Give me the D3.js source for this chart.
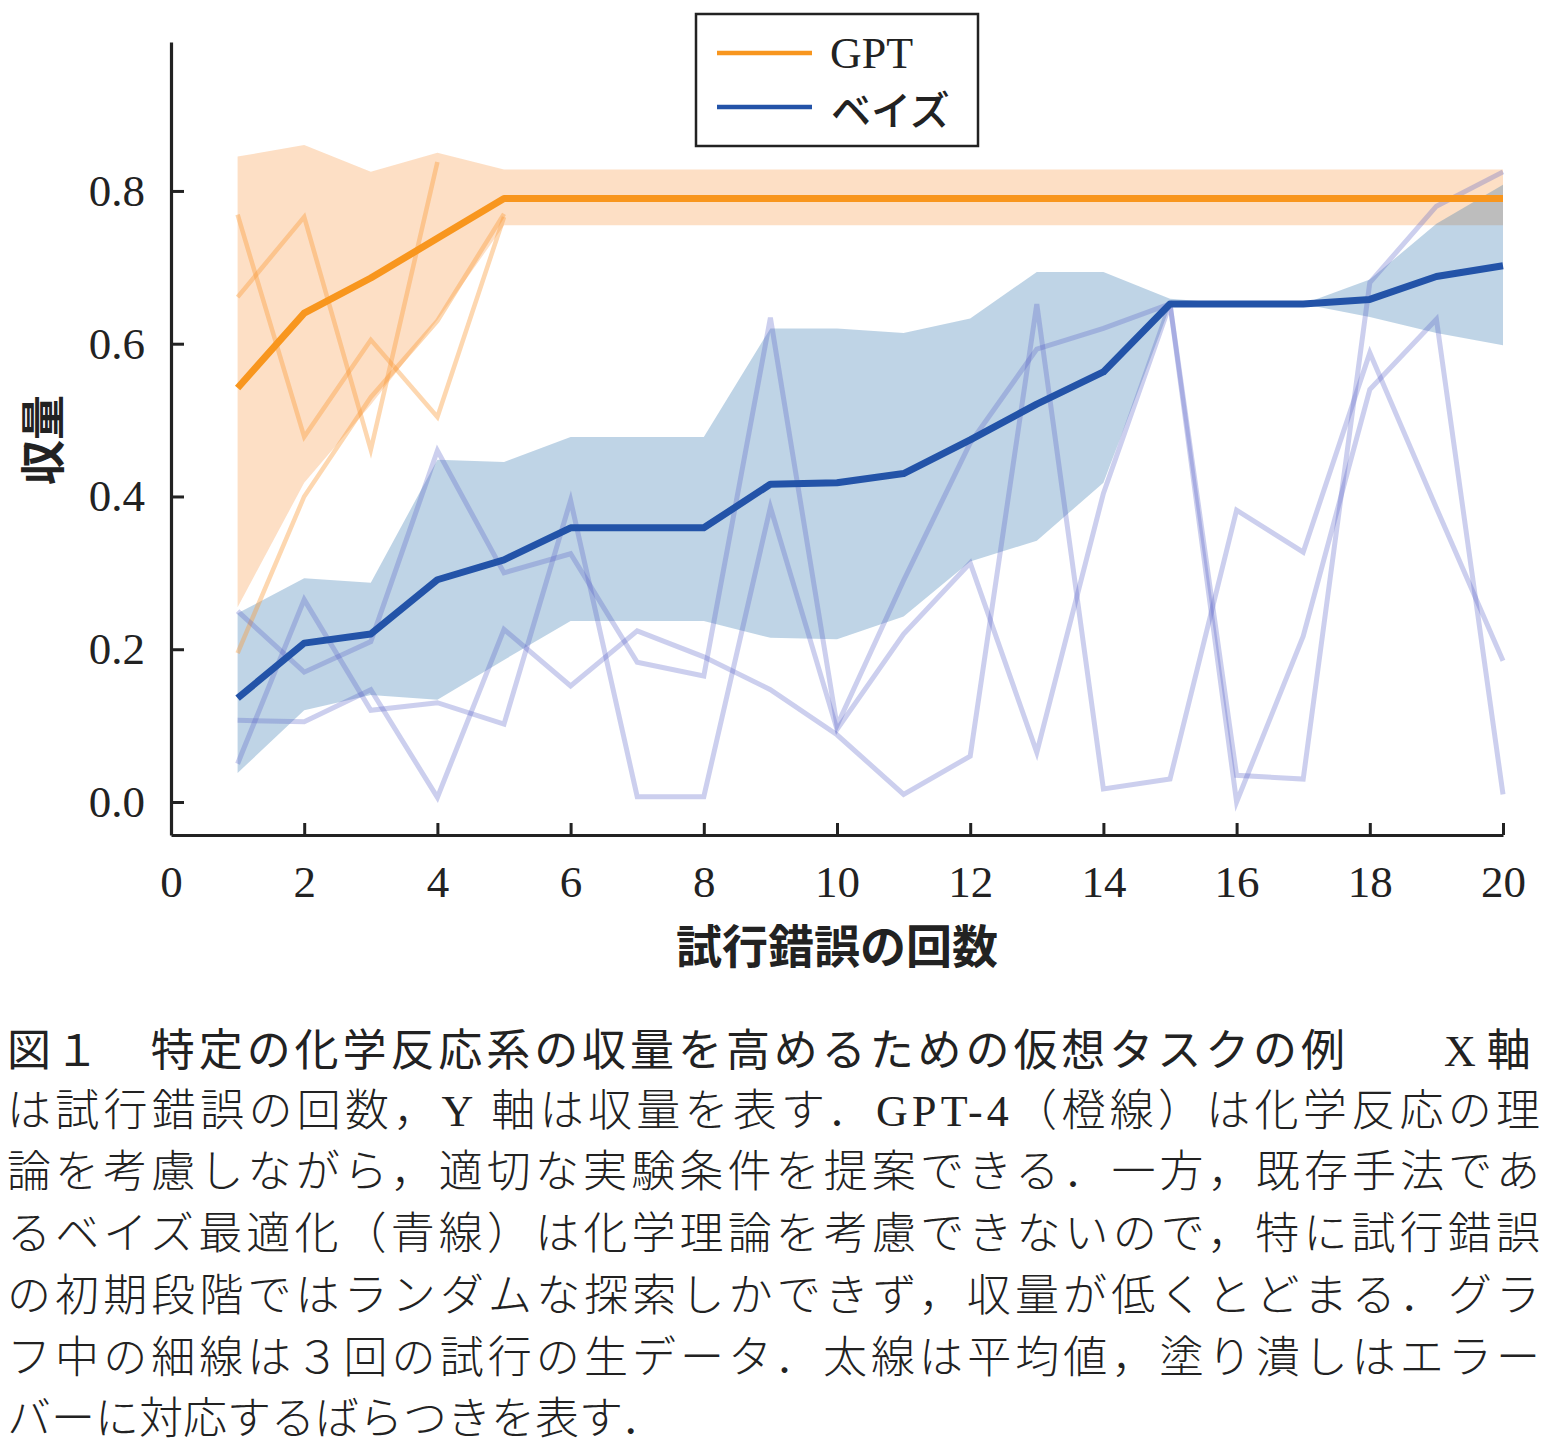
<!DOCTYPE html>
<html>
<head>
<meta charset="utf-8">
<script src="https://cdn.jsdelivr.net/npm/d3@7"></script>
<style>
  body { margin: 0; background: #fff; }
</style>
</head>
<body>
<div id="chart"></div>
<script>
const W = 1555, H = 1445;

// x = trial number
const trials = [1, 2, 3, 4, 5, 6, 7, 8, 9, 10, 11, 12, 13, 14, 15, 16, 17, 18, 19, 20];

// GPT
const gptMean  = [0.542, 0.640, 0.686, 0.738, 0.790, 0.790, 0.790, 0.790, 0.790, 0.790,
                  0.790, 0.790, 0.790, 0.790, 0.790, 0.790, 0.790, 0.790, 0.790, 0.790];
const gptUpper = [0.845, 0.860, 0.825, 0.850, 0.828, 0.828, 0.828, 0.828, 0.828, 0.828,
                  0.828, 0.828, 0.828, 0.828, 0.828, 0.828, 0.828, 0.828, 0.828, 0.828];
const gptLower = [0.255, 0.418, 0.520, 0.631, 0.755, 0.755, 0.755, 0.755, 0.755, 0.755,
                  0.755, 0.755, 0.755, 0.755, 0.755, 0.755, 0.755, 0.755, 0.755, 0.755];
const gptRun1 = [0.769, 0.478, 0.605, 0.504, 0.766];
const gptRun2 = [0.661, 0.766, 0.461, 0.838];
const gptRun3 = [0.195, 0.400, 0.530, 0.630, 0.770];

// Bayesian optimisation
const bayesMean  = [0.136, 0.208, 0.220, 0.291, 0.317, 0.359, 0.359, 0.359, 0.416, 0.418,
                    0.430, 0.474, 0.521, 0.563, 0.652, 0.652, 0.652, 0.658, 0.688, 0.702];
const bayesUpper = [0.247, 0.293, 0.287, 0.448, 0.445, 0.478, 0.478, 0.478, 0.620, 0.620,
                    0.614, 0.633, 0.694, 0.694, 0.659, 0.652, 0.652, 0.684, 0.757, 0.808];
const bayesLower = [0.038, 0.120, 0.140, 0.134, 0.186, 0.237, 0.237, 0.237, 0.215, 0.213,
                    0.243, 0.315, 0.342, 0.418, 0.648, 0.652, 0.652, 0.635, 0.614, 0.598];
const bayesRun1 = [0.250, 0.170, 0.210, 0.460, 0.300, 0.325, 0.183, 0.165, 0.634, 0.100,
                   0.290, 0.470, 0.593, 0.620, 0.652, 0.035, 0.030, 0.680, 0.780, 0.825];
const bayesRun2 = [0.107, 0.105, 0.147, 0.006, 0.226, 0.152, 0.224, 0.190, 0.147, 0.088,
                   0.010, 0.060, 0.652, 0.017, 0.030, 0.382, 0.327, 0.588, 0.385, 0.185];
const bayesRun3 = [0.050, 0.265, 0.120, 0.130, 0.102, 0.395, 0.007, 0.007, 0.386, 0.095,
                   0.220, 0.313, 0.065, 0.404, 0.652, 0.000, 0.217, 0.540, 0.632, 0.010];

const xTicks = [0, 2, 4, 6, 8, 10, 12, 14, 16, 18, 20];
const yTicks = [0.0, 0.2, 0.4, 0.6, 0.8];
const seriesNames = ['GPT', 'ベイズ'];
const xLabel = '試行錯誤の回数';
const yLabel = '収量';

const captionHead = '図１　特定の化学反応系の収量を高めるための仮想タスクの例';
const captionLines = [
  'は試行錯誤の回数，Y 軸は収量を表す．GPT-4（橙線）は化学反応の理',
  '論を考慮しながら，適切な実験条件を提案できる．一方，既存手法であ',
  'るベイズ最適化（青線）は化学理論を考慮できないので，特に試行錯誤',
  'の初期段階ではランダムな探索しかできず，収量が低くとどまる．グラ',
  'フ中の細線は３回の試行の生データ．太線は平均値，塗り潰しはエラー',
  'バーに対応するばらつきを表す．'
];

const ORANGE = '#f8961e', BLUE = '#2353a8';
const SERIF = '"Liberation Serif", "Noto Sans CJK JP", serif';
const GOTHIC = '"Noto Sans CJK JP", sans-serif';

const svg = d3.select('#chart').append('svg')
  .attr('width', W).attr('height', H)
  .style('background', '#fff');

const x = d3.scaleLinear().domain([0, 20]).range([171, 1503]);
const y = d3.scaleLinear().domain([-0.0432, 0.995]).range([835, 42]);

function band(lo, hi) {
  return d3.area()
    .x((d, i) => x(trials[i]))
    .y0((d, i) => y(lo[i]))
    .y1((d, i) => y(hi[i]))(lo);
}
const line = d3.line().x((d, i) => x(trials[i])).y(d => y(d));

// bands
svg.append('path').attr('d', band(gptLower, gptUpper))
  .attr('fill', '#f9a25a').attr('fill-opacity', 0.35);
svg.append('path').attr('d', band(bayesLower, bayesUpper))
  .attr('fill', '#2b71ad').attr('fill-opacity', 0.3);

// raw runs
const thin = svg.append('g').attr('fill', 'none').attr('stroke-linejoin', 'miter');
[gptRun1, gptRun2, gptRun3].forEach(r => {
  thin.append('path').attr('d', line(r)).attr('stroke-width', 4.5)
    .attr('stroke', '#f99a3a').attr('stroke-opacity', 0.4);
});
[bayesRun1, bayesRun2, bayesRun3].forEach(r => {
  thin.append('path').attr('d', line(r)).attr('stroke-width', 5)
    .attr('stroke', '#5560c8').attr('stroke-opacity', 0.3);
});

// means
svg.append('path').attr('d', line(bayesMean)).attr('fill', 'none')
  .attr('stroke', BLUE).attr('stroke-width', 7).attr('stroke-linejoin', 'round');
svg.append('path').attr('d', line(gptMean)).attr('fill', 'none')
  .attr('stroke', ORANGE).attr('stroke-width', 7).attr('stroke-linejoin', 'round');

// axes
const xAxis = svg.append('g').attr('transform', 'translate(0,835)')
  .call(d3.axisBottom(x).tickValues(xTicks).tickSize(-12).tickSizeOuter(0).tickPadding(30));
const yAxis = svg.append('g').attr('transform', 'translate(171,0)')
  .call(d3.axisLeft(y).tickValues(yTicks).tickSize(-13).tickSizeOuter(0).tickPadding(26)
    .tickFormat(d3.format('.1f')));
[xAxis, yAxis].forEach(g => {
  g.select('.domain').attr('stroke', '#222').attr('stroke-width', 3.2);
  g.selectAll('.tick line').attr('stroke', '#222').attr('stroke-width', 3);
  g.selectAll('.tick text').attr('fill', '#222')
    .style('font-family', SERIF).style('font-size', '45px');
});

// axis titles
svg.append('text').attr('x', 837).attr('y', 963).attr('text-anchor', 'middle')
  .style('font-family', GOTHIC).style('font-weight', 700).style('font-size', '46px')
  .attr('fill', '#222').text(xLabel);
svg.append('text').attr('transform', 'translate(60,440) rotate(-90)')
  .attr('text-anchor', 'middle')
  .style('font-family', GOTHIC).style('font-weight', 700).style('font-size', '45px')
  .attr('fill', '#222').text(yLabel);

// legend
const lg = svg.append('g');
lg.append('rect').attr('x', 696).attr('y', 14).attr('width', 282).attr('height', 132)
  .attr('fill', '#fff').attr('stroke', '#222').attr('stroke-width', 2.5);
[ORANGE, BLUE].forEach((c, i) => {
  lg.append('line').attr('x1', 717).attr('x2', 812)
    .attr('y1', 53 + i * 54).attr('y2', 53 + i * 54)
    .attr('stroke', c).attr('stroke-width', 4.5);
});
lg.append('text').attr('x', 830).attr('y', 68).attr('fill', '#222')
  .style('font-family', SERIF).style('font-size', '44px').text(seriesNames[0]);
lg.append('text').attr('x', 831).attr('y', 125).attr('fill', '#222')
  .style('font-family', GOTHIC).style('font-weight', 500).style('font-size', '40px')
  .text(seriesNames[1]);

// caption
const cap = svg.append('g').attr('fill', '#222');
cap.append('text').attr('x', 7).attr('y', 1066)
  .attr('textLength', 1338).attr('lengthAdjust', 'spacing')
  .style('font-family', GOTHIC).style('font-weight', 400).style('font-size', '44px')
  .text(captionHead);
cap.append('text').attr('x', 1444).attr('y', 1066)
  .style('font-family', SERIF).style('font-size', '44px').text('X 軸');
const baselines = [1126, 1187, 1249, 1311, 1373, 1434];
captionLines.forEach((t, i) => {
  const tx = cap.append('text').attr('x', 7).attr('y', baselines[i])
    .style('font-family', SERIF).style('font-size', '44px')
    .style('font-weight', 300).text(t);
  if (i < captionLines.length - 1) tx.attr('textLength', 1533).attr('lengthAdjust', 'spacing');
});
</script>
</body>
</html>
